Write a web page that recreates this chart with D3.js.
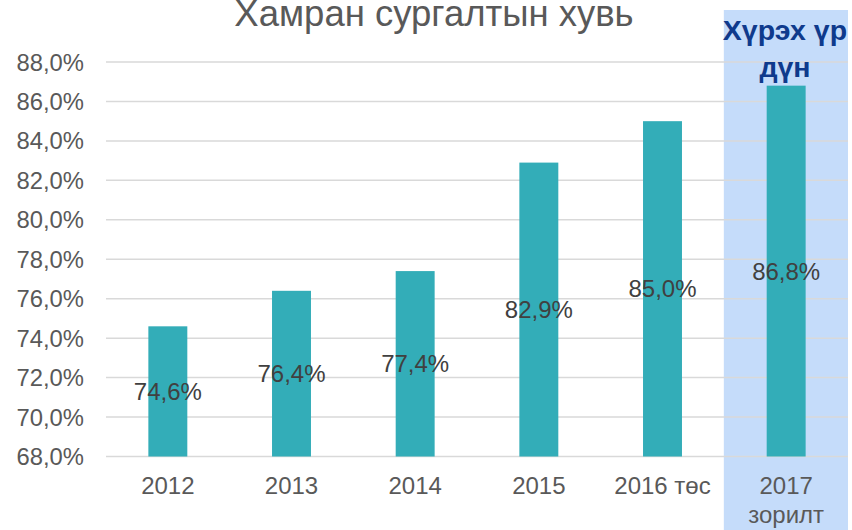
<!DOCTYPE html>
<html><head><meta charset="utf-8">
<script src="https://cdn.jsdelivr.net/npm/d3@7"></script>
<style>body{margin:0;background:#fff;}svg{display:block;font-family:"Liberation Sans",Arial,sans-serif;}</style>
</head><body>
<svg id="c" width="852" height="530"></svg>
<script>
const categories = ["2012","2013","2014","2015","2016 төс","2017\nзорилт"];
const values = [74.6, 76.4, 77.4, 82.9, 85.0, 86.8];
const yTicks = [68,70,72,74,76,78,80,82,84,86,88];
const title = "Хамран сургалтын хувь";
const highlightLabel = ["Хүрэх үр","дүн"];

const svg = d3.select("#c");
const W=852,H=530;
const x = d3.scaleBand().domain(categories).range([106,848]).paddingInner(0.685).paddingOuter(0.3425);
const y = d3.scaleLinear().domain([68,88]).range([456.5,62]);
const fmt = v => d3.format(".1f")(v).replace(".",",")+"%";

// highlight box
const last = categories[categories.length-1];
const bx = x(last)-x.step()*x.paddingInner()/2 - 0.5;
svg.append("rect").attr("x", bx).attr("y",10)
  .attr("width", 848 - bx).attr("height", H-10)
  .attr("fill","#c5dcfa");

// gridlines
svg.append("g").selectAll("line").data(yTicks).join("line")
  .attr("x1",106).attr("x2",848).attr("y1",d=>y(d)).attr("y2",d=>y(d))
  .attr("stroke","#d9d9d9").attr("stroke-width",1.5);

// y axis labels
svg.append("g").selectAll("text").data(yTicks).join("text")
  .attr("x",84).attr("y",d=>y(d)).attr("dy","0.36em").attr("text-anchor","end")
  .attr("font-size",23.8).attr("fill","#595959").text(d=>fmt(d));

// bars
svg.append("g").selectAll("rect").data(values).join("rect")
  .attr("x",(d,i)=>x(categories[i])).attr("width",x.bandwidth())
  .attr("y",d=>y(d)).attr("height",d=>y(68)-y(d)).attr("fill","#33adb8");

// value labels
svg.append("g").selectAll("text").data(values).join("text")
  .attr("x",(d,i)=>x(categories[i])+x.bandwidth()/2).attr("y",d=>(y(d)+y(68))/2)
  .attr("dy","0.36em").attr("text-anchor","middle").attr("font-size",24).attr("fill","#404040")
  .text(d=>fmt(d));

// x labels
const xl = svg.append("g").selectAll("text").data(categories).join("text")
  .attr("text-anchor","middle").attr("font-size",24).attr("fill","#595959")
  .attr("x",d=>x(d)+x.bandwidth()/2).attr("y",494);
xl.each(function(d){
  const parts=d.split("\n");
  d3.select(this).selectAll("tspan").data(parts).join("tspan")
    .attr("x",x(d)+x.bandwidth()/2).attr("dy",(p,i)=>i?29:0).text(p=>p);
});

// title
svg.append("text").attr("x",434).attr("y",26).attr("text-anchor","middle")
  .attr("font-size",36.5).attr("fill","#595959").text(title);

// highlight label
svg.append("g").selectAll("text").data(highlightLabel).join("text")
  .attr("x",785).attr("y",(d,i)=>40+i*37).attr("text-anchor","middle")
  .attr("font-size",28.5).attr("font-weight","bold").attr("fill","#0f3a8c").text(d=>d);
</script>
</body></html>
